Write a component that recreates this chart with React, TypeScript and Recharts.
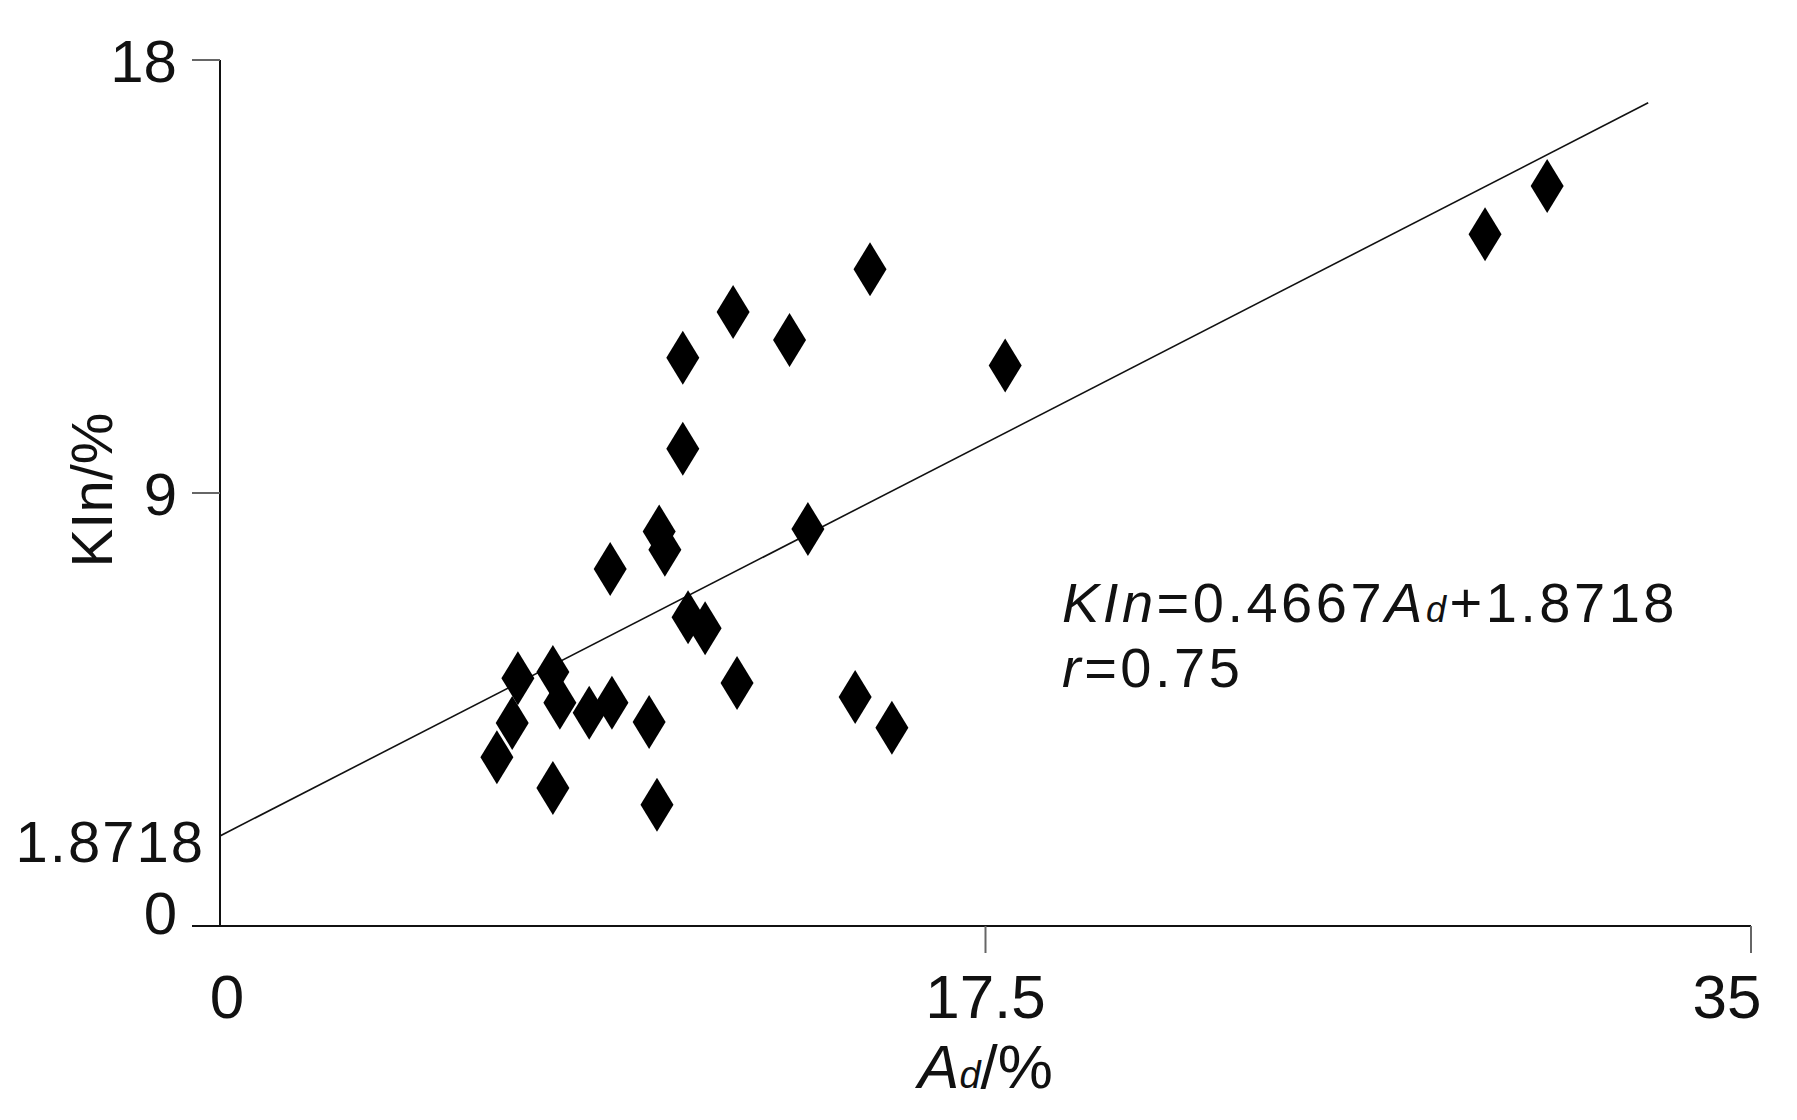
import React from 'react';
import { ScatterChart, Scatter, XAxis, YAxis, Label } from 'recharts';

// Ad (%) values of the samples
const adValues = [
  6.33, 6.68, 6.81, 7.61, 7.77, 7.61, 8.44, 8.96, 8.92, 9.81, 9.99, 10.04, 10.17, 10.58,
  10.58, 10.7, 11.09, 11.73, 11.82, 13.02, 13.44, 14.52, 14.86, 15.36, 17.95, 28.92, 30.34,
];
// KIn (%) values of the samples
const klnValues = [
  3.51, 4.22, 5.15, 5.28, 4.64, 2.87, 4.43, 4.64, 7.42, 4.24, 2.52, 8.2, 7.82, 11.81,
  9.92, 6.42, 6.19, 12.76, 5.05, 12.18, 8.25, 4.76, 13.65, 4.12, 11.65, 14.38, 15.38,
];
// regression line end points
const fitX = [0, 32.65];
const fitY = [1.8718, 17.11];

const xTicks = [0, 17.5, 35];
const yTicks = [0, 1.8718, 9, 18];

const points = adValues.map((x, i) => ({ x, y: klnValues[i] }));
const fitLine = fitX.map((x, i) => ({ x, y: fitY[i] }));

const FONT = '"Liberation Sans", Arial, Helvetica, sans-serif';
const INK = '#111';
const TICK = '#666';

const Diamond = (props: any) => {
  const { cx, cy } = props;
  if (cx == null || cy == null) return <g />;
  const hw = 16.5;
  const hh = 27;
  return (
    <polygon
      points={`${cx},${cy - hh} ${cx + hw},${cy} ${cx},${cy + hh} ${cx - hw},${cy}`}
      fill="#000"
    />
  );
};

const NoDot = () => <g />;

const YTick = (props: any) => {
  const { x, y, payload } = props;
  const v = payload.value;
  if (v === 1.8718) {
    return (
      <text x={x - 15} y={y + 5} dy="0.36em" textAnchor="end" fontSize={58} letterSpacing={2}
        fontFamily={FONT} fill={INK}>
        1.8718
      </text>
    );
  }
  const shift = v === 0 ? -14 : 0;
  return (
    <g>
      <line x1={x - 28} x2={x} y1={y} y2={y} stroke={v === 0 ? INK : TICK} strokeWidth={2} />
      <text x={x - 43} y={y + shift} dy="0.36em" textAnchor="end" fontSize={60}
        fontFamily={FONT} fill={INK}>
        {String(v)}
      </text>
    </g>
  );
};

const XTick = (props: any) => {
  const { x, y, payload } = props;
  const v = payload.value;
  let tx = x;
  if (v === 0) tx = x + 7;
  if (v === 35) tx = x - 24;
  return (
    <g>
      {v !== 0 && <line x1={x} x2={x} y1={y} y2={y + 27} stroke={TICK} strokeWidth={2} />}
      <text x={tx} y={y + 92} textAnchor="middle" fontSize={62} fontFamily={FONT} fill={INK}>
        {String(v)}
      </text>
    </g>
  );
};

const XTitle = (props: any) => {
  const vb = props.viewBox || { x: 220, y: 926, width: 1531, height: 194 };
  const cx = vb.x + vb.width / 2;
  const eqX = vb.x + 842;
  return (
    <g fontFamily={FONT} fill={INK}>
      <text x={cx} y={vb.y + 162} textAnchor="middle" fontSize={62}>
        <tspan fontStyle="italic">A</tspan>
        <tspan fontStyle="italic" fontSize={38}>d</tspan>
        <tspan>/%</tspan>
      </text>
      <text x={eqX} y={vb.y - 304} fontSize={56} letterSpacing={3.5}>
        <tspan fontStyle="italic">KIn</tspan>
        <tspan>=0.4667</tspan>
        <tspan fontStyle="italic">A</tspan>
        <tspan fontStyle="italic" fontSize={36}>d</tspan>
        <tspan>+1.8718</tspan>
      </text>
      <text x={eqX} y={vb.y - 239} fontSize={56} letterSpacing={3.5}>
        <tspan fontStyle="italic">r</tspan>
        <tspan>=0.75</tspan>
      </text>
    </g>
  );
};

const YTitle = (props: any) => {
  const vb = props.viewBox || { x: 0, y: 60, width: 220, height: 866 };
  const cx = 91;
  const cy = vb.y + vb.height / 2 - 3;
  return (
    <text x={cx} y={cy} dy="0.36em" textAnchor="middle" fontSize={58} fontFamily={FONT}
      fill={INK} transform={`rotate(-90 ${cx} ${cy})`}>
      KIn/%
    </text>
  );
};

export default function App() {
  return (
    <div style={{ position: 'absolute', left: 0, top: 0, width: 1797, height: 1120, background: '#fff' }}>
      <ScatterChart width={1797} height={1120} margin={{ top: 60, right: 46, left: 0, bottom: 0 }}>
        <XAxis
          type="number"
          dataKey="x"
          domain={[0, 35]}
          ticks={xTicks}
          interval={0}
          height={194}
          tickSize={0}
          tickMargin={0}
          tickLine={false}
          tick={<XTick />}
          axisLine={{ stroke: INK, strokeWidth: 2 }}
          allowDataOverflow
        >
          <Label content={<XTitle />} />
        </XAxis>
        <YAxis
          type="number"
          dataKey="y"
          domain={[0, 18]}
          ticks={yTicks}
          interval={0}
          width={220}
          tickSize={0}
          tickMargin={0}
          tickLine={false}
          tick={<YTick />}
          axisLine={{ stroke: INK, strokeWidth: 2 }}
          allowDataOverflow
        >
          <Label content={<YTitle />} />
        </YAxis>
        <Scatter
          data={fitLine}
          line={{ stroke: INK, strokeWidth: 1.6 }}
          shape={<NoDot />}
          isAnimationActive={false}
        />
        <Scatter data={points} shape={<Diamond />} isAnimationActive={false} />
      </ScatterChart>
    </div>
  );
}
